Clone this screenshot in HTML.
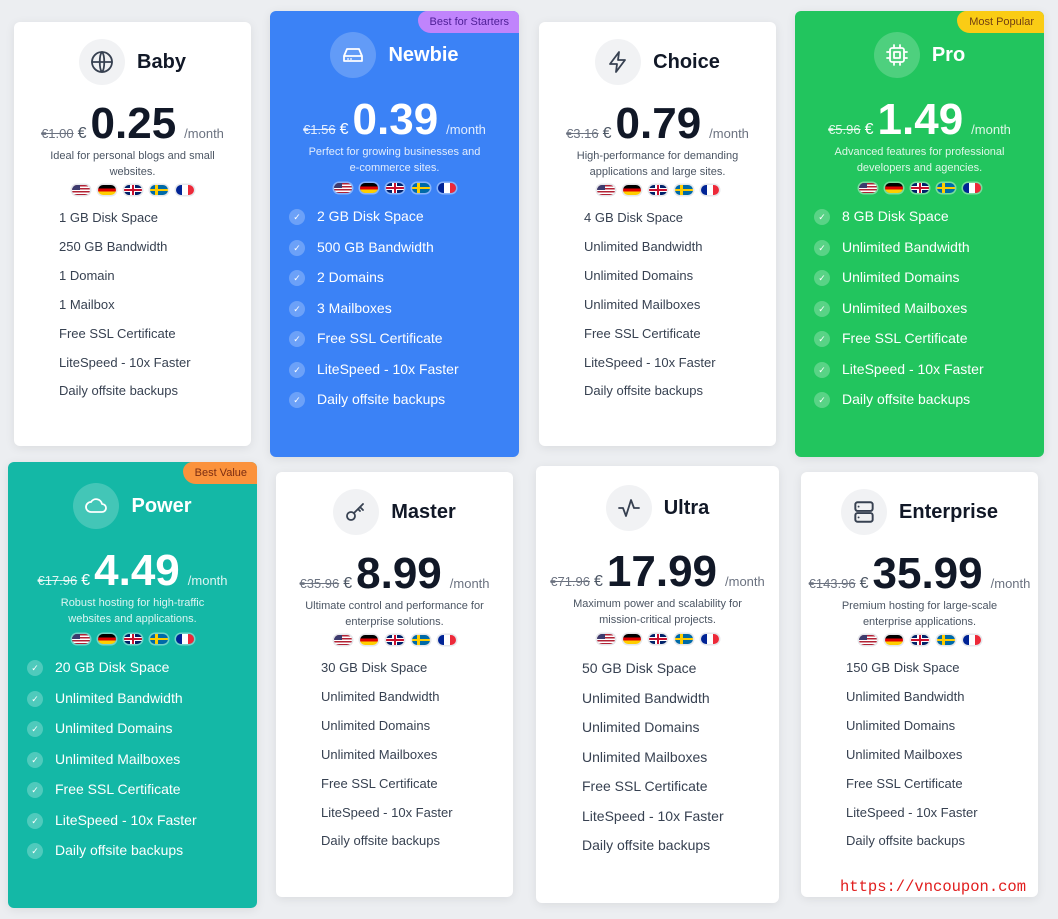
<!DOCTYPE html>
<html><head><meta charset="utf-8"><style>
body{margin:0;width:1058px;height:919px;background:#eceef1;font-family:"Liberation Sans",sans-serif;position:relative;overflow:hidden}
.card{position:absolute;border-radius:6px;box-shadow:0 2px 10px rgba(0,0,0,.08);background:#fff;color:#1f2937;overflow:hidden}
.card>*{position:absolute;left:0;right:0}
.head{display:flex;justify-content:center;align-items:center;gap:12px;height:46px}
.ic{width:46px;height:46px;border-radius:50%;background:#f1f2f4;display:flex;align-items:center;justify-content:center}
.ttl{font-size:20px;font-weight:bold;color:#111827}
.price{display:flex;justify-content:center;align-items:baseline;white-space:nowrap}
.old{font-size:13px;color:#6b7280;text-decoration:line-through;margin-right:4px}
.eur{font-size:16px;color:#4b5563;margin-right:4px}
.big{font-size:44px;font-weight:bold;color:#111827;margin-right:8px}
.mo{font-size:13px;color:#6b7280}
.desc{text-align:center;font-size:11px;line-height:16px;color:#4b5563;white-space:nowrap}
.flags{display:flex;justify-content:center;gap:8px;height:10px}
.fl{width:18px;height:10px;border-radius:5px;box-shadow:0 0 0 1.5px #e5e7eb}
.feat{font-size:13px;color:#374151}
.feat div{position:absolute;white-space:nowrap}
.col{color:#fff}
.col .ttl,.col .big,.col .eur,.col .feat{color:#fff}
.col .old,.col .mo,.col .desc{color:rgba(255,255,255,.85)}
.col .ic{background:rgba(255,255,255,.2)}
.col .fl{box-shadow:0 0 0 1.5px rgba(255,255,255,.4)}
.chk{position:absolute;width:16px;height:16px;border-radius:50%;background:rgba(255,255,255,.25);color:#fff;font-size:9px;line-height:16px;text-align:center}
.badge{position:absolute!important;left:auto!important;right:0;top:0;font-size:11px;padding:5px 10px 5px 12px;border-radius:16px 6px 0 22px}
.wm{position:absolute;left:840px;top:878px;color:#e11d1d;font-family:"Liberation Mono",monospace;font-size:15.5px}
</style></head><body>
<div id="root"></div>
<div class="wm">https://vncoupon.com</div>
<script>
const flags='<div class="fl" style="background:repeating-linear-gradient(#b22234 0 1.5px,#fff 1.5px 3px)"><div style="width:8px;height:5px;background:#3c3b6e;border-radius:5px 0 0 0"></div></div>'+
'<div class="fl" style="background:linear-gradient(#000 33%,#dd0000 33% 66%,#ffce00 66%)"></div>'+
'<div class="fl" style="background:linear-gradient(#c8102e,#c8102e) center/18px 2px no-repeat,linear-gradient(#c8102e,#c8102e) center/2px 10px no-repeat,linear-gradient(#fff,#fff) center/18px 4px no-repeat,linear-gradient(#fff,#fff) center/5px 10px no-repeat,#012169"></div>'+
'<div class="fl" style="background:linear-gradient(#fecc00,#fecc00) 5px 0/3px 10px no-repeat,linear-gradient(#fecc00,#fecc00) 0 4px/18px 2px no-repeat,#006aa7"></div>'+
'<div class="fl" style="background:linear-gradient(90deg,#002395 33%,#fff 33% 66%,#ed2939 66%)"></div>';
const S='stroke="#374151" stroke-width="1.8" fill="none" stroke-linecap="round" stroke-linejoin="round"';
const icons={
globe:`<svg width="24" height="24" viewBox="0 0 24 24" ${S}><circle cx="12" cy="12" r="10"/><path d="M2 12h20M12 2c3 3 3 17 0 20M12 2c-3 3-3 17 0 20"/></svg>`,
drive:`<svg width="26" height="24" viewBox="0 0 24 24" ${S}><path d="M3 13l3-7h12l3 7v5H3z M3 13h18M7 16h.01M10 16h.01"/></svg>`,
bolt:`<svg width="24" height="24" viewBox="0 0 24 24" ${S}><path d="M13 2L4 14h7l-1 8 9-12h-7z"/></svg>`,
cpu:`<svg width="24" height="24" viewBox="0 0 24 24" ${S}><rect x="5" y="5" width="14" height="14" rx="2"/><rect x="9" y="9" width="6" height="6"/><path d="M9 2v3M15 2v3M9 19v3M15 19v3M2 9h3M2 15h3M19 9h3M19 15h3"/></svg>`,
cloud:`<svg width="26" height="24" viewBox="0 0 24 24" ${S}><path d="M7 18a5 5 0 0 1 0-10 6 6 0 0 1 11 2 4 4 0 0 1 0 8z"/></svg>`,
key:`<svg width="26" height="24" viewBox="0 0 24 24" ${S}><circle cx="7" cy="16" r="4"/><path d="M10 13l9-9M16 7l3 3M14 9l2 2"/></svg>`,
pulse:`<svg width="26" height="24" viewBox="0 0 24 24" ${S}><path d="M2 12h4l3 8 5-16 3 8h5"/></svg>`,
server:`<svg width="26" height="26" viewBox="0 0 24 24" ${S}><rect x="4" y="3" width="16" height="8" rx="2"/><rect x="4" y="13" width="16" height="8" rx="2"/><path d="M7 7h.01M7 17h.01"/></svg>`};
const cards=[
['Baby','globe',14,22,237,424,null,'€1.00','0.25','Ideal for personal blogs and small<br>websites.',['1 GB Disk Space','250 GB Bandwidth','1 Domain','1 Mailbox'],0],
['Newbie','drive',270,11,249,446,'#3b82f6','€1.56','0.39','Perfect for growing businesses and<br>e-commerce sites.',['2 GB Disk Space','500 GB Bandwidth','2 Domains','3 Mailboxes'],['Best for Starters','#c084fc','#4c1d95']],
['Choice','bolt',539,22,237,424,null,'€3.16','0.79','High-performance for demanding<br>applications and large sites.',['4 GB Disk Space','Unlimited Bandwidth','Unlimited Domains','Unlimited Mailboxes'],0],
['Pro','cpu',795,11,249,446,'#22c55e','€5.96','1.49','Advanced features for professional<br>developers and agencies.',['8 GB Disk Space','Unlimited Bandwidth','Unlimited Domains','Unlimited Mailboxes'],['Most Popular','#facc15','#713f12']],
['Power','cloud',8,462,249,446,'#14b8a6','€17.96','4.49','Robust hosting for high-traffic<br>websites and applications.',['20 GB Disk Space','Unlimited Bandwidth','Unlimited Domains','Unlimited Mailboxes'],['Best Value','#fb923c','#7c2d12']],
['Master','key',276,472,237,425,null,'€35.96','8.99','Ultimate control and performance for<br>enterprise solutions.',['30 GB Disk Space','Unlimited Bandwidth','Unlimited Domains','Unlimited Mailboxes'],0],
['Ultra','pulse',536,466,243,437,null,'€71.96','17.99','Maximum power and scalability for<br>mission-critical projects.',['50 GB Disk Space','Unlimited Bandwidth','Unlimited Domains','Unlimited Mailboxes'],0,1],
['Enterprise','server',801,472,237,425,null,'€143.96','35.99','Premium hosting for large-scale<br>enterprise applications.',['150 GB Disk Space','Unlimited Bandwidth','Unlimited Domains','Unlimited Mailboxes'],0]];
let h='';
for(const c of cards){
 const [t,ic,x,y,w,hh,bg,old,big,desc,f,badge,ultra]=c;
 const L=!!bg;
 const feats=f.concat(['Free SSL Certificate','LiteSpeed - 10x Faster','Daily offsite backups']);
 const o=L?{i:21,p:112,d:133,fl:177,f0:206,sp:30.5,fs:14}:ultra?{i:19,p:109,d:130,fl:173,f0:203,sp:29.5,fs:14}:{i:17,p:105,d:126,fl:168,f0:197,sp:28.9,fs:13};
 let svg=icons[ic]; if(L) svg=svg.replace('#374151','#fff');
 h+=`<div class="card ${L?'col':''}" style="left:${x}px;top:${y}px;width:${w}px;height:${hh}px;${bg?'background:'+bg:''}">`;
 if(badge) h+=`<div class="badge" style="background:${badge[1]};color:${badge[2]}">${badge[0]}</div>`;
 h+=`<div class="head" style="top:${o.i}px"><div class="ic">${svg}</div><div class="ttl">${t}</div></div>`;
 h+=`<div class="price" style="top:${o.p-28}px;height:46px"><span class="old">${old}</span><span class="eur">€</span><span class="big">${big}</span><span class="mo">/month</span></div>`;
 h+=`<div class="desc" style="top:${o.d}px">${desc}</div>`;
 h+=`<div class="flags" style="top:${o.fl-5}px">${flags}</div>`;
 h+=`<div class="feat" style="top:0;font-size:${o.fs}px">`;
 feats.forEach((s,k)=>{const ty=o.f0+k*o.sp-9;
  if(L) h+=`<div class="chk" style="left:19px;top:${ty+1}px">✓</div><div style="left:47px;top:${ty}px">${s}</div>`;
  else h+=`<div style="left:${ultra?46:45}px;top:${ty}px">${s}</div>`;});
 h+=`</div></div>`;
}
document.getElementById('root').innerHTML=h;
</script>
</body></html>
